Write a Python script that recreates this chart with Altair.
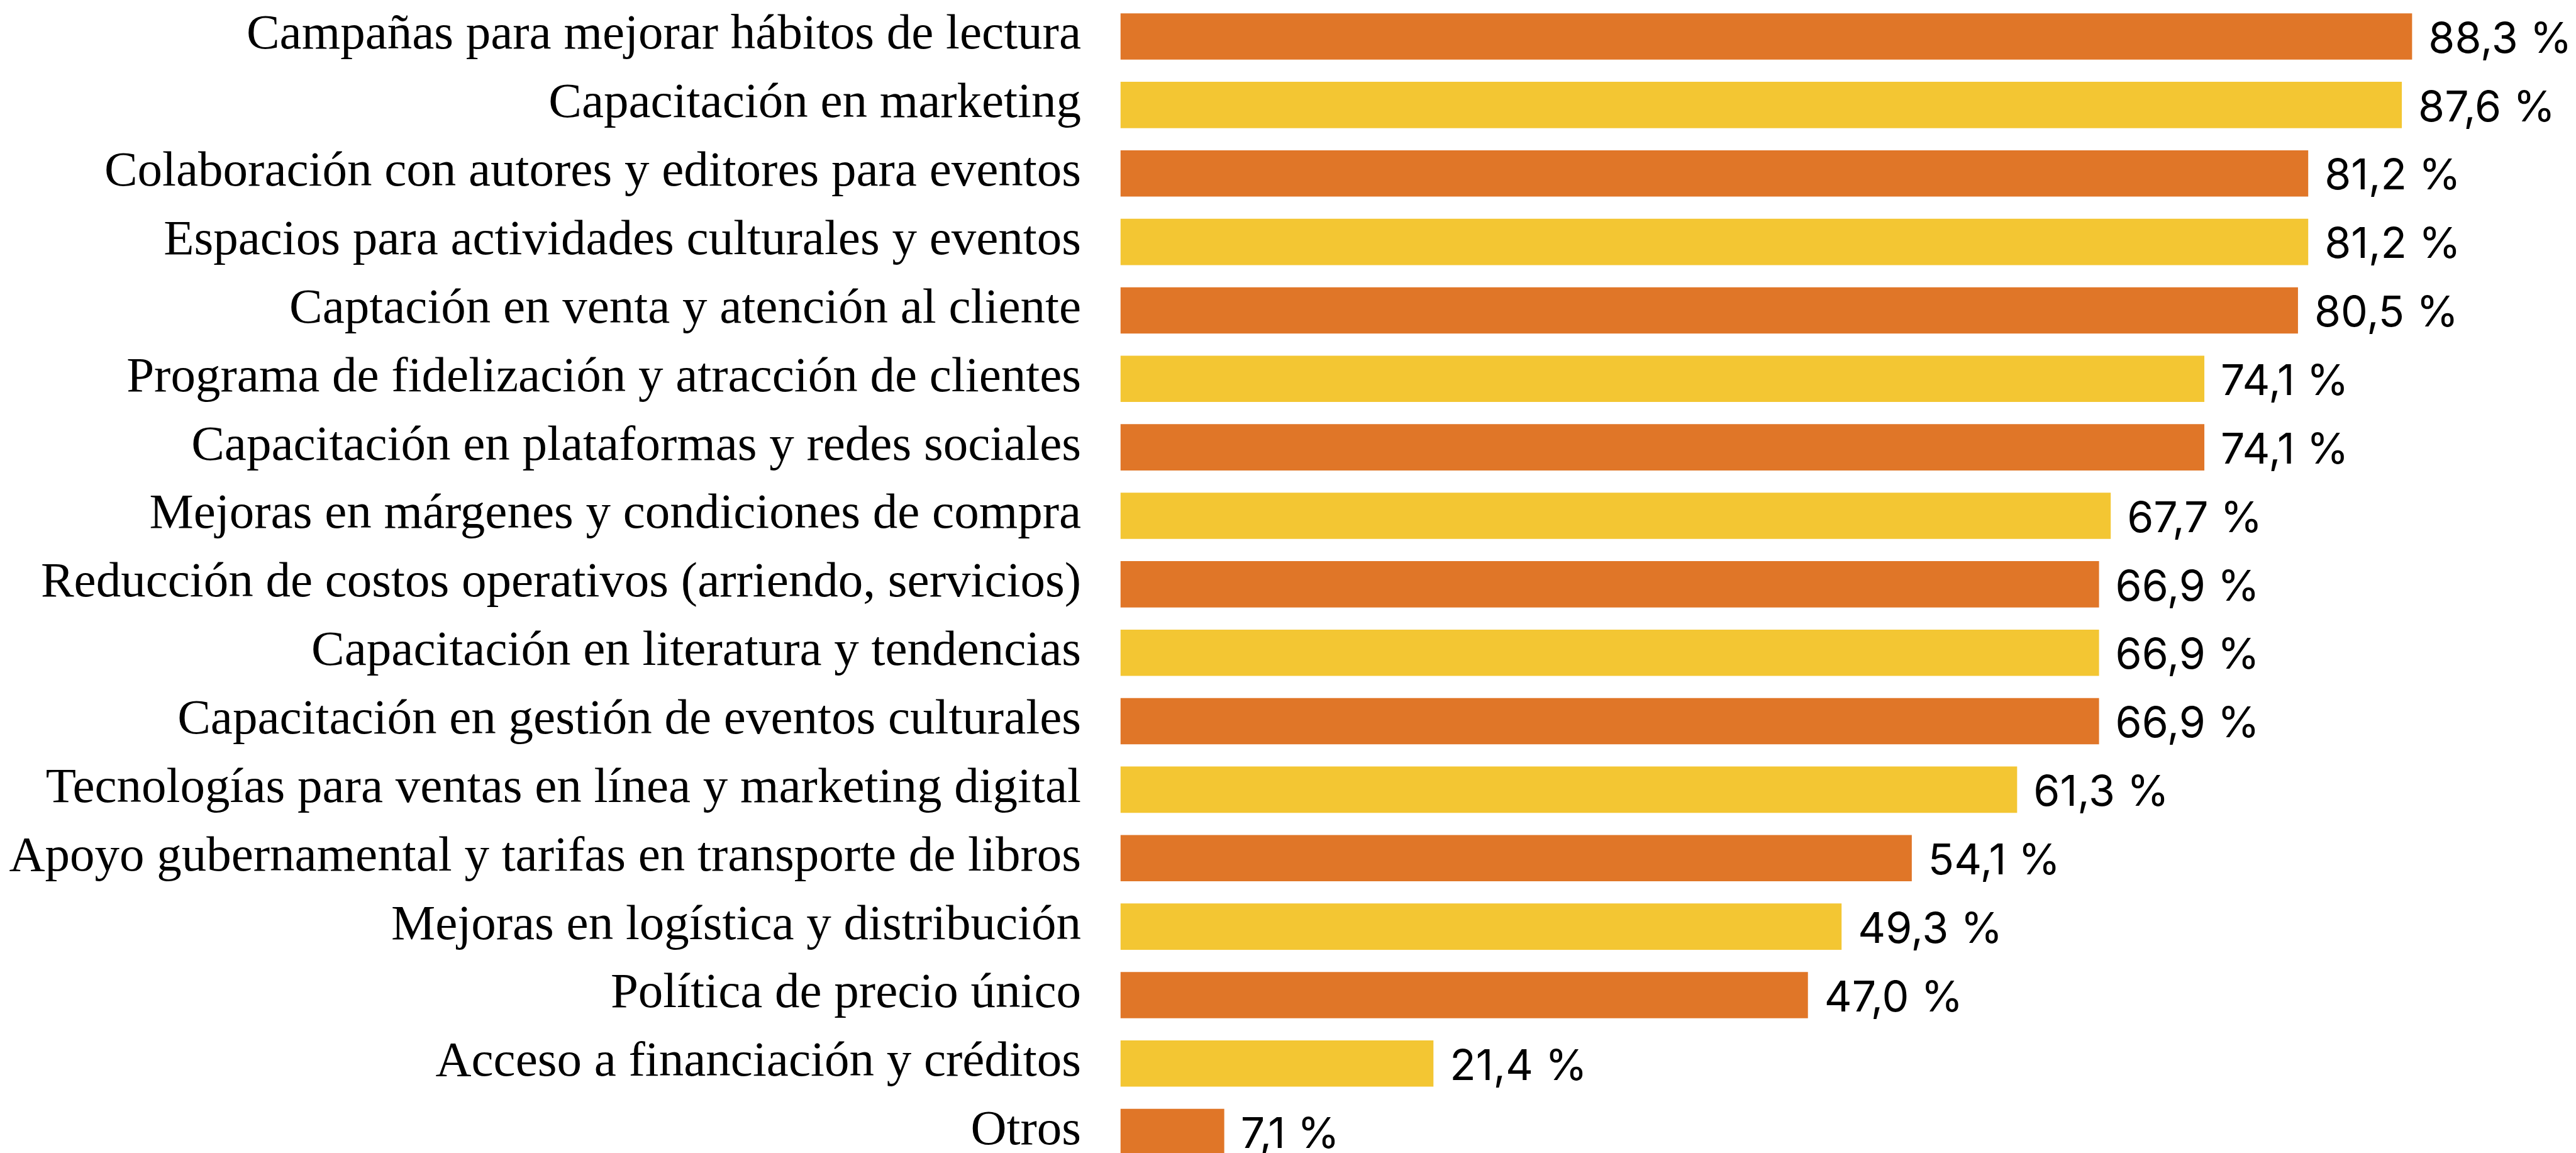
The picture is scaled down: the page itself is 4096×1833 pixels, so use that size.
import altair as alt
import pandas as pd

# Categorías y porcentajes, en el orden en que se muestran (de arriba abajo)
categorias = [
    "Campañas para mejorar hábitos de lectura",
    "Capacitación en marketing",
    "Colaboración con autores y editores para eventos",
    "Espacios para actividades culturales y eventos",
    "Captación en venta y atención al cliente",
    "Programa de fidelización y atracción de clientes",
    "Capacitación en plataformas y redes sociales",
    "Mejoras en márgenes y condiciones de compra",
    "Reducción de costos operativos (arriendo, servicios)",
    "Capacitación en literatura y tendencias",
    "Capacitación en gestión de eventos culturales",
    "Tecnologías para ventas en línea y marketing digital",
    "Apoyo gubernamental y tarifas en transporte de libros",
    "Mejoras en logística y distribución",
    "Política de precio único",
    "Acceso a financiación y créditos",
    "Otros",
]
valores = [88.3, 87.6, 81.2, 81.2, 80.5, 74.1, 74.1, 67.7, 66.9, 66.9, 66.9,
           61.3, 54.1, 49.3, 47.0, 21.4, 7.1]

df = pd.DataFrame({"categoria": categorias, "valor": valores})
df["tono"] = ["a" if i % 2 == 0 else "b" for i in range(len(df))]
df["etiqueta"] = [f"{v:.1f}".replace(".", ",") + " %" for v in valores]

# Geometría del panel
LEFT = 1781.5
WIDTH = 4096 - LEFT
HEIGHT = 1833
PX_PER_UNIT = 23.26
STEP = 108.85
BAR_H = 73.6
TOP = 21.25
PAD_INNER = 1 - BAR_H / STEP
RANGE_END = TOP + STEP * (len(categorias) - PAD_INNER)

y_enc = alt.Y(
    "categoria:N",
    sort=None,
    scale=alt.Scale(range=[TOP, RANGE_END], paddingInner=PAD_INNER, paddingOuter=0),
    axis=alt.Axis(
        title=None,
        domain=False,
        ticks=False,
        grid=False,
        labelFont="Liberation Serif",
        labelFontSize=79,
        labelColor="#000000",
        labelPadding=63,
        labelLimit=3000,
        labelBaseline="alphabetic",
        labelOffset=19.4,
    ),
)
x_enc = alt.X(
    "valor:Q",
    scale=alt.Scale(domain=[0, WIDTH / PX_PER_UNIT], nice=False, zero=True),
    axis=None,
)

barras = alt.Chart(df).mark_bar(clip=True).encode(
    x=x_enc,
    y=y_enc,
    color=alt.Color(
        "tono:N",
        scale=alt.Scale(domain=["a", "b"], range=["#E07628", "#F3C633"]),
        legend=None,
    ),
)

textos = alt.Chart(df).mark_text(
    align="left",
    baseline="alphabetic",
    dx=26,
    dy=25.7,
    font="Inter",
    fontSize=68,
    color="#000000",
).encode(x=x_enc, y=y_enc, text="etiqueta:N")

chart = (
    alt.layer(barras, textos)
    .properties(
        width=WIDTH,
        height=HEIGHT,
        autosize=alt.AutoSizeParams(type="none"),
        padding={"left": LEFT, "top": 0, "right": 0, "bottom": 0},
        background="#FFFFFF",
    )
    .configure_view(stroke=None)
)

chart.save("out.html", embed_options={"renderer": "svg", "actions": False})
